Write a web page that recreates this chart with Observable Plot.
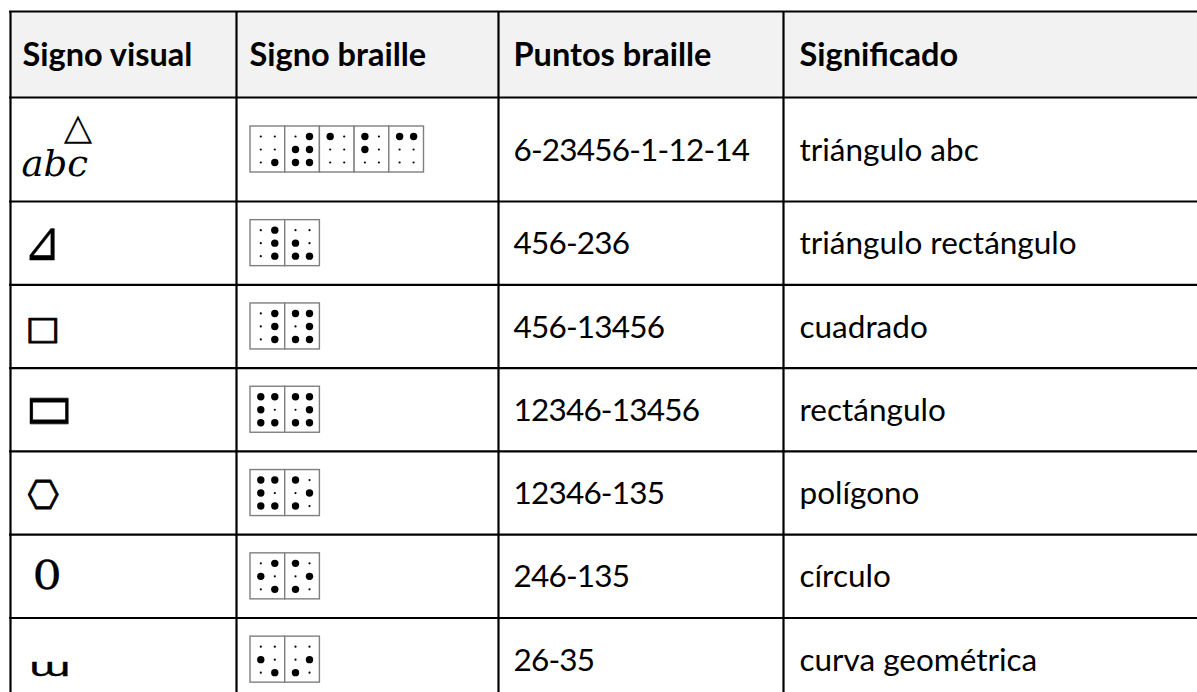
<!DOCTYPE html>
<html>
<head>
<meta charset="utf-8">
<script src="https://cdn.jsdelivr.net/npm/d3@7"></script>
<script src="https://cdn.jsdelivr.net/npm/@observablehq/plot@0.6"></script>
<style>
  html, body { margin: 0; padding: 0; background: #ffffff; }
  #chart svg { display: block; }
  .code-col text { letter-spacing: -0.8px; }
</style>
</head>
<body>
<div id="chart"></div>
<script>
// ---------- DATA ----------
const headers = ["Signo visual", "Signo braille", "Puntos braille", "Significado"];
const visualSigns = ["abc", "⊿", "□", "▭", "⎔", "0", "ɯ"];
const accentSigns = ["△", "", "", "", "", "", ""];
const brailleDots = ["6-23456-1-12-14", "456-236", "456-13456", "12346-13456", "12346-135", "246-135", "26-35"];
const meanings = ["triángulo abc", "triángulo rectángulo", "cuadrado", "rectángulo", "polígono", "círculo", "curva geométrica"];

// ---------- LAYOUT (pixels) ----------
const W = 1197, H = 692;
const tableTop = 11;
const rowHeights = [86, 104, 83.3, 83.3, 83.3, 83.3, 83.3, 83.3];
const rowEdges = [tableTop];
rowHeights.forEach(h => rowEdges.push(rowEdges[rowEdges.length - 1] + h));
const rowCenter = i => (rowEdges[i] + rowEdges[i + 1]) / 2;
const colEdges = [10, 236, 498, 783];
const tableRight = W + 10;
const textX = [22, 249, 513, 799];
const headerSize = 32.5, bodySize = 31.5;
const brailleLeft = 250, cellW = 34.7, cellH = 46;
const dotX = [10.3, 24.3], dotY = [10, 23, 36];

// visual-sign styling: font, size, x anchor, vertical offset from row centre, scale, extra stroke
const signStyle = [
  {font: "DejaVu Serif", italic: true, size: 35, x: 21, dy: 15, sx: 1.06, sy: 1, sw: 0},
  {font: "DejaVu Sans", italic: false, size: 44, x: 23, dy: -1, sx: 1, sy: 1.28, sw: 0.25},
  {font: "DejaVu Sans", italic: false, size: 32, x: 25, dy: 2, sx: 1.15, sy: 1, sw: 0.9},
  {font: "DejaVu Sans", italic: false, size: 50, x: 25, dy: -3, sx: 1, sy: 1.38, sw: 0.5},
  {font: "DejaVu Sans", italic: false, size: 36, x: 27, dy: 3.5, sx: 1, sy: 1.1, sw: 0.8},
  {font: "DejaVu Serif", italic: false, size: 40, x: 32, dy: 0, sx: 1.15, sy: 1, sw: 0.3},
  {font: "DejaVu Sans", italic: false, size: 30, x: 28, dy: 8, sx: 1.45, sy: 0.85, sw: 0.4}
];
const accentStyle = {font: "DejaVu Sans", size: 37, x: 77.5, dy: -22};

// ---------- DERIVED TABLES ----------
const rows = meanings.map((m, i) => ({i, sign: visualSigns[i], accent: accentSigns[i], code: brailleDots[i], meaning: m}));
const cells = [];
rows.forEach(r => r.code.split("-").forEach((g, c) => cells.push({r: r.i, c, set: new Set(g.split("").map(Number))})));
const dots = cells.flatMap(cell => d3.range(1, 7).map(k => ({...cell, k, raised: cell.set.has(k)})));
const cellX1 = d => brailleLeft + d.c * cellW;
const cellY1 = d => rowCenter(d.r + 1) - cellH / 2;
const dotPx = d => cellX1(d) + dotX[d.k > 3 ? 1 : 0];
const dotPy = d => cellY1(d) + dotY[(d.k - 1) % 3];

const signMarks = rows.map(r => {
  const s = signStyle[r.i];
  return Plot.text([r], {
    x: () => s.x, y: () => rowCenter(r.i + 1) + s.dy, text: "sign",
    textAnchor: "start", fontSize: s.size, fontFamily: s.font,
    fontStyle: s.italic ? "italic" : "normal", fill: "#000",
    stroke: s.sw ? "#000" : null, strokeWidth: s.sw || 0,
    className: "sign-" + r.i
  });
});

const chart = Plot.plot({
  width: W, height: H, margin: 0,
  style: {background: "#ffffff", overflow: "hidden"},
  x: {type: "linear", domain: [0, W], range: [0, W], axis: null},
  y: {type: "linear", domain: [0, H], range: [0, H], axis: null},
  marks: [
    // header background
    Plot.rect([headers], {x1: colEdges[0], x2: tableRight, y1: rowEdges[0], y2: rowEdges[1], fill: "#f2f2f2"}),
    // grid
    Plot.ruleY(rowEdges, {x1: colEdges[0] - 1, x2: tableRight, stroke: "#000", strokeWidth: 2.2}),
    Plot.ruleX(colEdges, {y1: rowEdges[0], y2: rowEdges[rowEdges.length - 1], stroke: "#000", strokeWidth: 2.2}),
    // headers
    Plot.text(headers, {x: (d, i) => textX[i], y: () => rowCenter(0) + 0.6, text: d => d, textAnchor: "start",
      fontSize: headerSize, fontWeight: "bold", fontFamily: "Lato", fill: "#000"}),
    // braille code and meaning
    Plot.text(rows, {x: () => textX[2], y: d => rowCenter(d.i + 1) + 1, text: "code", textAnchor: "start",
      fontSize: bodySize, fontFamily: "Lato", fill: "#000", className: "code-col"}),
    Plot.text(rows, {x: () => textX[3], y: d => rowCenter(d.i + 1) + 1, text: "meaning", textAnchor: "start",
      fontSize: bodySize, fontFamily: "Lato", fill: "#000"}),
    // braille cells
    Plot.rect(cells, {x1: cellX1, x2: d => cellX1(d) + cellW, y1: cellY1, y2: d => cellY1(d) + cellH,
      fill: "#fff", stroke: "#7f7f7f", strokeWidth: 1.4}),
    Plot.dot(dots.filter(d => !d.raised), {x: dotPx, y: dotPy, r: 1.1, fill: "#000", stroke: null}),
    Plot.dot(dots.filter(d => d.raised), {x: dotPx, y: dotPy, r: 3.7, fill: "#000", stroke: null}),
    // visual signs
    ...signMarks,
    Plot.text(rows.filter(r => r.accent), {x: () => accentStyle.x, y: d => rowCenter(d.i + 1) + accentStyle.dy,
      text: "accent", textAnchor: "middle", fontSize: accentStyle.size, fontFamily: accentStyle.font, fill: "#000"})
  ]
});

// apply glyph scaling of the sign symbols
signStyle.forEach((s, i) => {
  if (s.sx === 1 && s.sy === 1) return;
  chart.querySelectorAll(".sign-" + i + " text").forEach(t => {
    const tr = t.getAttribute("transform") || "";
    t.setAttribute("transform", tr + " scale(" + s.sx + "," + s.sy + ")");
  });
});

document.getElementById("chart").appendChild(chart);
</script>
</body>
</html>
